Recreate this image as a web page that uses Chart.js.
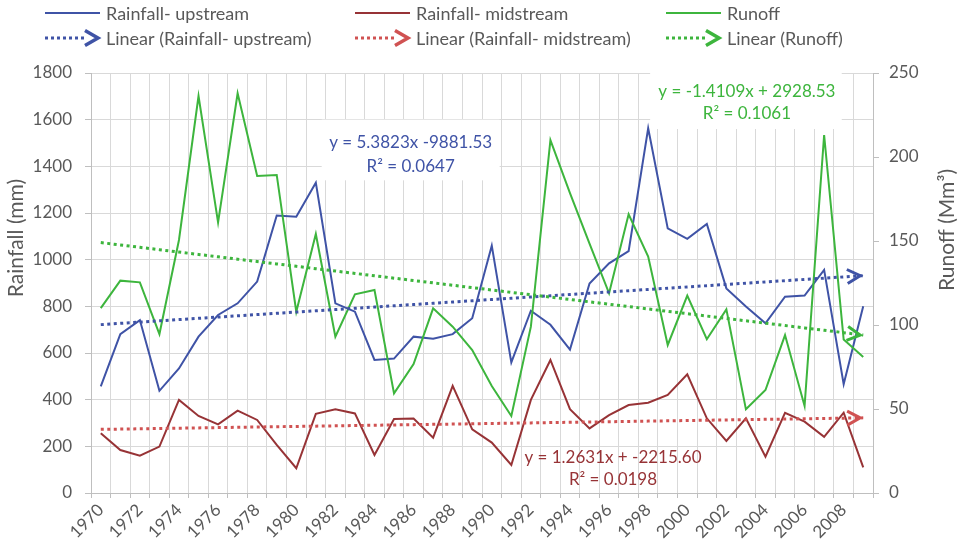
<!DOCTYPE html>
<html>
<head>
<meta charset="utf-8">
<script src="https://cdn.jsdelivr.net/npm/chart.js@4.4.1/dist/chart.umd.min.js"></script>
<style>
  html, body { margin: 0; padding: 0; background: #fff; }
  #wrap { width: 962px; height: 549px; }
</style>
</head>
<body>
<div id="wrap"><canvas id="chart" width="962" height="549"></canvas></div>
<script>
// Data
const years = [
  1970, 1971, 1972, 1973, 1974, 1975, 1976, 1977, 1978, 1979,
  1980, 1981, 1982, 1983, 1984, 1985, 1986, 1987, 1988, 1989,
  1990, 1991, 1992, 1993, 1994, 1995, 1996, 1997, 1998, 1999,
  2000, 2001, 2002, 2003, 2004, 2005, 2006, 2007, 2008, 2009,
];

// Rainfall upstream (mm)
const rainUp = [
  457, 681, 741, 438, 534, 670, 763, 813, 906, 1189,
  1184, 1330, 813, 777, 570, 576, 670, 661, 681, 749,
  1060, 560, 781, 721, 615, 898, 984, 1037, 1563, 1134,
  1089, 1153, 877, 799, 727, 841, 846, 956, 466, 800,
];

// Rainfall midstream (mm)
const rainMid = [
  256, 184, 160, 199, 399, 330, 294, 353, 313, 206,
  106, 339, 359, 341, 163, 317, 319, 237, 459, 273,
  216, 120, 399, 570, 359, 277, 334, 377, 387, 420,
  509, 320, 223, 320, 156, 344, 306, 241, 344, 110,
];

// Runoff (Mm3)
const runoff = [
  110, 126.4, 125.4, 94.6, 150.6, 236.3, 161.1, 237.9, 188.7, 189.3,
  107.9, 154.2, 93.0, 118.3, 120.8, 59.3, 76.8, 109.9, 99.0, 85.1,
  63.7, 45.8, 99.0, 210.1, 178.5, 148.5, 118.9, 165.9, 140.7, 88.1,
  117.5, 91.5, 109.3, 49.8, 61.3, 94.0, 51.8, 213.1, 91.3, 80.9,
];

// Linear trend lines as printed on the chart (x = year)
const trendSlope = [5.3823, 1.2631, -1.4109];
const trendIntercept = [-9881.53, -2215.60, 2928.53];
const trendText = [
  ["y = 5.3823x -9881.53", "R\u00b2 = 0.0647"],
  ["y = 1.2631x + -2215.60", "R\u00b2 = 0.0198"],
  ["y = -1.4109x + 2928.53", "R\u00b2 = 0.1061"],
];

const rainTicks = [0, 200, 400, 600, 800, 1000, 1200, 1400, 1600, 1800];
const runoffTicks = [0, 50, 100, 150, 200, 250];

const BLUE = "#3F53A6";
const DARKRED = "#973336";
const GREEN = "#3DB53D";
const LIGHTRED = "#D05252";
const GREY = "#595959";
const FONT = "Lato";

function trend(k) {
  return years.map((y) => trendSlope[k] * y + trendIntercept[k]);
}

// Where the equation labels sit (category index, rainfall value)
const notes = [
  { k: 0, color: BLUE, x: 15.85, y1: 1504, y2: 1401, box: [11.3, 20.4, 1600, 1340] },
  { k: 1, color: DARKRED, x: 26.2, y1: 154, y2: 56, box: null },
  { k: 2, color: GREEN, x: 33.05, y1: 1720, y2: 1627, box: [28.1, 37.9, 1800, 1560] },
];

function chevron(ctx, x, y, angle, w, h, color, lw) {
  ctx.save();
  ctx.translate(x, y);
  ctx.rotate(angle);
  ctx.strokeStyle = color;
  ctx.lineWidth = lw;
  ctx.lineJoin = "miter";
  ctx.beginPath();
  ctx.moveTo(-w, -h / 2);
  ctx.lineTo(0, 0);
  ctx.lineTo(-w, h / 2);
  ctx.stroke();
  ctx.restore();
}

const overlay = {
  id: "overlay",
  beforeDatasetsDraw(chart) {
    const { ctx, scales } = chart;
    ctx.save();
    ctx.fillStyle = "#fff";
    notes.forEach((n) => {
      if (!n.box) return;
      const x1 = scales.x.getPixelForValue(n.box[0]);
      const x2 = scales.x.getPixelForValue(n.box[1]);
      const y1 = scales.y.getPixelForValue(n.box[2]);
      const y2 = scales.y.getPixelForValue(n.box[3]);
      ctx.fillRect(x1, y1, x2 - x1, y2 - y1);
    });
    ctx.restore();
  },
  afterDatasetsDraw(chart) {
    const { ctx, scales } = chart;
    // arrow heads at the end of the trend lines
    chart.data.datasets.forEach((ds, i) => {
      if (!ds.isTrend) return;
      const pts = chart.getDatasetMeta(i).data;
      const a = pts[pts.length - 2], b = pts[pts.length - 1];
      const ang = Math.atan2(b.y - a.y, b.x - a.x);
      chevron(ctx, b.x - 3, b.y, ang, 13, 14, ds.borderColor, 3);
    });
    // equation labels
    ctx.save();
    ctx.font = "17px " + FONT;
    ctx.textAlign = "center";
    ctx.textBaseline = "middle";
    notes.forEach((n) => {
      ctx.fillStyle = n.color;
      const x = scales.x.getPixelForValue(n.x);
      ctx.fillText(trendText[n.k][0], x, scales.y.getPixelForValue(n.y1));
      ctx.fillText(trendText[n.k][1], x, scales.y.getPixelForValue(n.y2));
    });
    ctx.restore();
  },
  afterDraw(chart) {
    const { ctx } = chart;
    ctx.save();
    // legend, 3 columns x 2 rows
    const colX = [45, 355, 666];
    const rowY = [13, 38];
    ctx.font = "18px " + FONT;
    ctx.textBaseline = "middle";
    chart.data.datasets.forEach((ds, i) => {
      const x = colX[i % 3];
      const y = rowY[Math.floor(i / 3)];
      ctx.strokeStyle = ds.borderColor;
      if (ds.isTrend) {
        ctx.lineWidth = 3;
        ctx.setLineDash([3, 3]);
        ctx.beginPath();
        ctx.moveTo(x, y);
        ctx.lineTo(x + 40, y);
        ctx.stroke();
        ctx.setLineDash([]);
        chevron(ctx, x + 53, y, 0, 13, 15, ds.borderColor, 3.5);
      } else {
        ctx.lineWidth = 2;
        ctx.beginPath();
        ctx.moveTo(x, y);
        ctx.lineTo(x + 55, y);
        ctx.stroke();
      }
      ctx.fillStyle = GREY;
      ctx.textAlign = "left";
      ctx.fillText(ds.label, x + 61, y + 1);
    });
    // axis titles
    ctx.font = "21px " + FONT;
    ctx.fillStyle = GREY;
    ctx.textAlign = "center";
    [["Rainfall (mm)", 16, 238], ["Runoff (Mm\u00b3)", 947, 230]].forEach(([t, x, y]) => {
      ctx.save();
      ctx.translate(x, y);
      ctx.rotate(-Math.PI / 2);
      ctx.fillText(t, 0, 0);
      ctx.restore();
    });
    ctx.restore();
  },
};

function line(label, data, color, axis, order, trendLine) {
  return {
    label,
    data,
    yAxisID: axis,
    borderColor: color,
    backgroundColor: color,
    borderWidth: trendLine ? 3 : 2,
    borderDash: trendLine ? [3, 3.5] : [],
    pointRadius: 0,
    tension: 0,
    fill: false,
    order,
    isTrend: trendLine,
  };
}

new Chart(document.getElementById("chart"), {
  type: "line",
  data: {
    labels: years.map(String),
    datasets: [
      line("Rainfall- upstream", rainUp, BLUE, "y", 6, false),
      line("Rainfall- midstream", rainMid, DARKRED, "y", 5, false),
      line("Runoff", runoff, GREEN, "y1", 4, false),
      line("Linear (Rainfall- upstream)", trend(0), BLUE, "y", 3, true),
      line("Linear (Rainfall- midstream)", trend(1), LIGHTRED, "y", 2, true),
      line("Linear (Runoff)", trend(2), GREEN, "y1", 1, true),
    ],
  },
  options: {
    responsive: false,
    animation: false,
    layout: { padding: { top: 73, left: 0, right: 0, bottom: 0 } },
    plugins: { legend: { display: false }, tooltip: { enabled: false } },
    scales: {
      x: {
        offset: true,
        grid: { offset: true, color: "#D9D9D9", tickLength: 5, tickColor: "#BFBFBF" },
        border: { color: "#BFBFBF" },
        ticks: {
          autoSkip: false,
          maxRotation: 45,
          minRotation: 45,
          padding: 2,
          color: GREY,
          font: { family: FONT, size: 17 },
          callback(v, i) { return i % 2 === 0 ? this.getLabelForValue(v) : ""; },
        },
        afterFit(s) { s.height = 56; },
      },
      y: {
        position: "left",
        min: rainTicks[0],
        max: rainTicks[rainTicks.length - 1],
        afterBuildTicks(s) { s.ticks = rainTicks.map((v) => ({ value: v })); },
        grid: { color: "#D9D9D9", tickLength: 6, tickColor: "#BFBFBF" },
        border: { color: "#BFBFBF" },
        ticks: { padding: 13, color: GREY, font: { family: FONT, size: 17 }, callback: (v) => String(v) },
        afterFit(s) { s.width = 91; },
      },
      y1: {
        position: "right",
        min: runoffTicks[0],
        max: runoffTicks[runoffTicks.length - 1],
        afterBuildTicks(s) { s.ticks = runoffTicks.map((v) => ({ value: v })); },
        grid: { drawOnChartArea: false, tickLength: 6, tickColor: "#BFBFBF" },
        border: { color: "#BFBFBF" },
        ticks: { padding: 10, color: GREY, font: { family: FONT, size: 17 }, callback: (v) => String(v) },
        afterFit(s) { s.width = 89; },
      },
    },
  },
  plugins: [overlay],
});
</script>
</body>
</html>
